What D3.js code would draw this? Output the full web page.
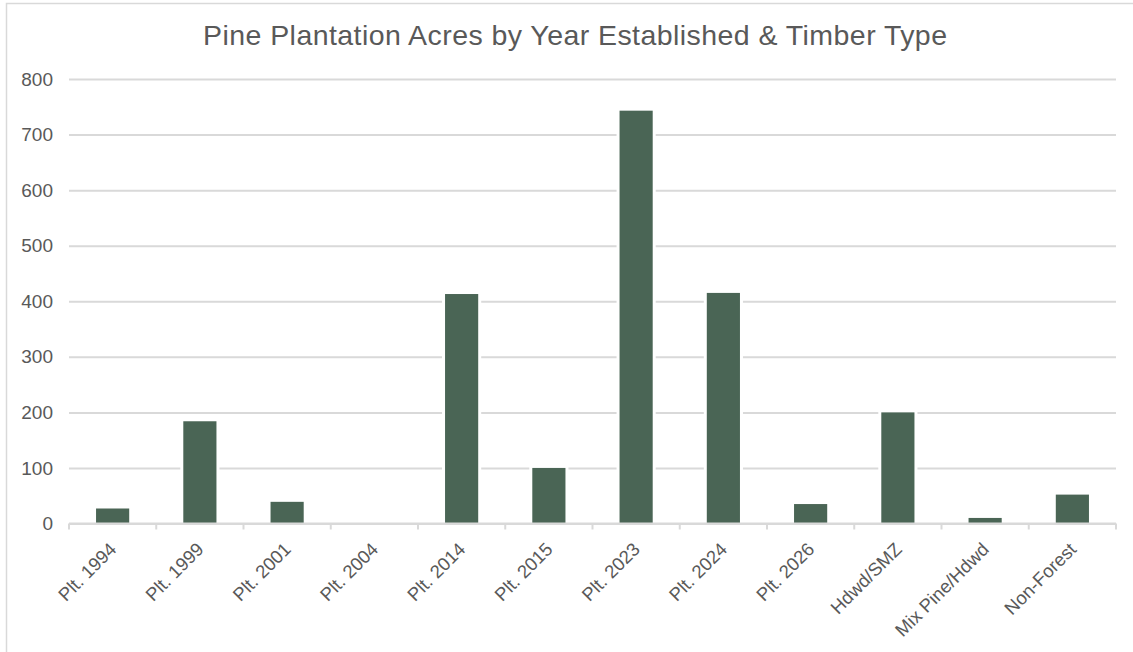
<!DOCTYPE html>
<html><head><meta charset="utf-8">
<script src="https://cdn.jsdelivr.net/npm/d3@7"></script>
<style>body{margin:0;background:#fff;}svg{display:block;font-family:"Liberation Sans",Arial,sans-serif;}</style>
</head><body>
<svg id="c" width="1133" height="652"></svg>
<script>
const categories = ["Plt. 1994","Plt. 1999","Plt. 2001","Plt. 2004","Plt. 2014","Plt. 2015","Plt. 2023","Plt. 2024","Plt. 2026","Hdwd/SMZ","Mix Pine/Hdwd","Non-Forest"];
const acres = [27, 184, 39, 0, 413, 100, 743, 415, 35, 200, 10, 52];
const yTicks = [0,100,200,300,400,500,600,700,800];
const title = "Pine Plantation Acres by Year Established & Timber Type";

const svg = d3.select("#c");
const L = 69, R = 1116, T = 79, B = 523.5;
svg.append("rect").attr("x",6.5).attr("y",3.5).attr("width",1140).attr("height",660)
  .attr("fill","#fff").attr("stroke","#d9d9d9").attr("stroke-width",1.5);

const x = d3.scaleBand().domain(categories).range([L,R]).paddingInner(0.62).paddingOuter(0.31);
const y = d3.scaleLinear().domain([0,800]).range([B,T]);

svg.append("text").attr("x",575).attr("y",45).attr("text-anchor","middle")
  .attr("font-size",28.5).attr("fill","#595959")
  .attr("textLength",744).attr("lengthAdjust","spacing").text(title);

// gridlines
const yAxis = d3.axisLeft(y).tickValues(yTicks).tickSize(-(R-L)).tickPadding(16);
const gy = svg.append("g").attr("transform",`translate(${L},0)`).call(yAxis);
gy.select(".domain").remove();
gy.selectAll(".tick line").attr("stroke","#d9d9d9").attr("stroke-width",2);
gy.selectAll(".tick text").attr("fill","#595959").attr("font-size",19).attr("font-family","Liberation Sans, Arial, sans-serif");

// bars with white halo
const bars = svg.append("g");
bars.selectAll("rect.halo").data(acres).join("rect").attr("class","halo")
  .attr("x",(d,i)=>x(categories[i])-3).attr("width",x.bandwidth()+6)
  .attr("y",d=>y(d)-2).attr("height",d=>d>0?B-y(d)+1:0).attr("fill","#fff");
bars.selectAll("rect.bar").data(acres).join("rect").attr("class","bar")
  .attr("x",(d,i)=>x(categories[i])).attr("width",x.bandwidth())
  .attr("y",d=>y(d)).attr("height",d=>B-y(d)).attr("fill","#4a6555");

// x axis
const xb = d3.scaleLinear().domain([0,categories.length]).range([L,R]);
const gx = svg.append("g").attr("transform",`translate(0,${B})`);
gx.append("line").attr("x1",L).attr("x2",R).attr("stroke","#d9d9d9").attr("stroke-width",2);
gx.selectAll("line.tk").data(d3.range(categories.length+1)).join("line").attr("class","tk")
  .attr("x1",d=>xb(d)).attr("x2",d=>xb(d)).attr("y1",0).attr("y2",6)
  .attr("stroke","#d9d9d9").attr("stroke-width",2);
gx.selectAll("text").data(categories).join("text")
  .attr("transform",d=>`translate(${x(d)+x.bandwidth()/2+5},${27}) rotate(-45)`)
  .attr("text-anchor","end").attr("font-size",18.5).attr("fill","#595959").text(d=>d);
</script>
</body></html>
